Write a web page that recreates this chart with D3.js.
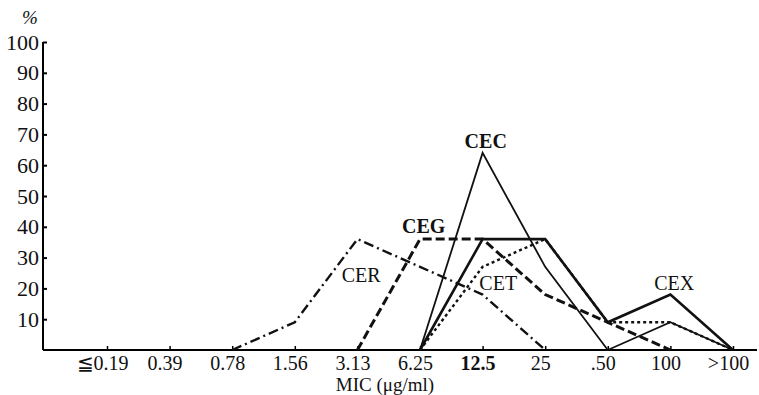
<!DOCTYPE html>
<html lang="en">
<head>
<meta charset="utf-8">
<title>MIC distribution</title>
<script src="https://d3js.org/d3.v7.min.js"></script>
<style>
	body { margin: 0; background: #fff; }
	text { font-family: "Liberation Serif", "DejaVu Serif", serif; fill: #111; }
</style>
</head>
<body>
<script>
	// categories on x axis (MIC, ug/ml)
	var categories = ["≦0.19", "0.39", "0.78", "1.56", "3.13", "6.25", "12.5", "25", ".50", "100", ">100"]
	var yTicks = [10, 20, 30, 40, 50, 60, 70, 80, 90, 100]

	// percent of strains per category, null = no point
	var cecValues = [null, null, null, null, null, 0, 64, 27, 0, 9, 0]
	var cexValues = [null, null, null, null, null, 0, 36, 36, 9, 18, 0]
	var cetValues = [null, null, null, null, null, 0, 27, 36, 9, 9, 0]
	var cegValues = [null, null, null, null, 0, 36, 36, 18, 9, 0, null]
	var cerValues = [null, null, 0, 9, 36, 27, 18, 0, null, null, null]

	// label anchors: category index (fractional) and value
	var labelNames = ["CEC", "CEG", "CER", "CET", "CEX"]
	var labelIndex = [6.05, 5.06, 4.06, 6.25, 9.06]
	var labelValue = [65.5, 38, 22, 19.5, 19.5]

	var w = 759
	var h = 395

	var xScale = d3.scaleLinear()
		.domain([0, categories.length - 1])
		.range([107, 733])
	var yScale = d3.scaleLinear()
		.domain([0, 100])
		.range([350, 42])

	var svg = d3.select("body")
		.append("svg")
		.attr("width", w)
		.attr("height", h)

	// y axis
	var yAxis = svg.append("g")
		.attr("transform", "translate(43,0)")
		.call(d3.axisRight(yScale).tickValues(yTicks).tickSize(4).tickFormat(d3.format("d")))
	yAxis.select(".domain").attr("stroke-width", 2).attr("d", "M0," + yScale(100) + "V" + yScale(0))
	yAxis.selectAll(".tick line").attr("stroke-width", 2)
	yAxis.selectAll(".tick text")
		.attr("x", -4)
		.attr("text-anchor", "end")
		.attr("font-size", "22px")

	svg.append("text")
		.attr("x", 30)
		.attr("y", 24)
		.attr("text-anchor", "middle")
		.attr("font-size", "19px")
		.attr("font-style", "italic")
		.text("%")

	// x axis
	var xAxis = svg.append("g")
		.attr("transform", "translate(0," + yScale(0) + ")")
		.call(d3.axisTop(xScale).tickValues(d3.range(categories.length)).tickSize(4)
			.tickFormat(function(d){ return categories[d] }))
	xAxis.select(".domain").attr("stroke-width", 2).attr("d", "M43,0H757")
	xAxis.selectAll(".tick line").attr("stroke-width", 1.5)
	xAxis.selectAll(".tick text")
		.attr("y", 20)
		.attr("dx", -5)
		.attr("font-size", "20px")
		.attr("font-weight", function(d){ return categories[d] == "12.5" ? "bold" : null })

	svg.append("text")
		.attr("x", 385)
		.attr("y", 391)
		.attr("text-anchor", "middle")
		.attr("font-size", "19px")
		.text("MIC (μg/ml)")

	// series lines
	var series = [
		{ values: cegValues, width: 3, dash: "9,4" },
		{ values: cerValues, width: 2.4, dash: "10,4,2,4" },
		{ values: cetValues, width: 2.4, dash: "3,3" },
		{ values: cecValues, width: 1.8, dash: null },
		{ values: cexValues, width: 2.6, dash: null }
	]

	var line = d3.line()
		.defined(function(d){ return d != null })
		.x(function(d, i){ return xScale(i) })
		.y(function(d){ return yScale(d) })

	svg.selectAll("path.series")
		.data(series)
		.enter()
		.append("path")
		.attr("class", "series")
		.attr("fill", "none")
		.attr("stroke", "#111")
		.attr("stroke-width", function(d){ return d.width })
		.attr("stroke-dasharray", function(d){ return d.dash })
		.attr("d", function(d){ return line(d.values) })

	// series labels
	svg.selectAll("text.lbl")
		.data(labelNames)
		.enter()
		.append("text")
		.attr("class", "lbl")
		.attr("x", function(d, i){ return xScale(labelIndex[i]) })
		.attr("y", function(d, i){ return yScale(labelValue[i]) })
		.attr("text-anchor", "middle")
		.attr("font-size", "20px")
		.attr("font-weight", function(d){ return d == "CEC" || d == "CEG" ? "bold" : null })
		.text(function(d){ return d })
</script>
</body>
</html>
